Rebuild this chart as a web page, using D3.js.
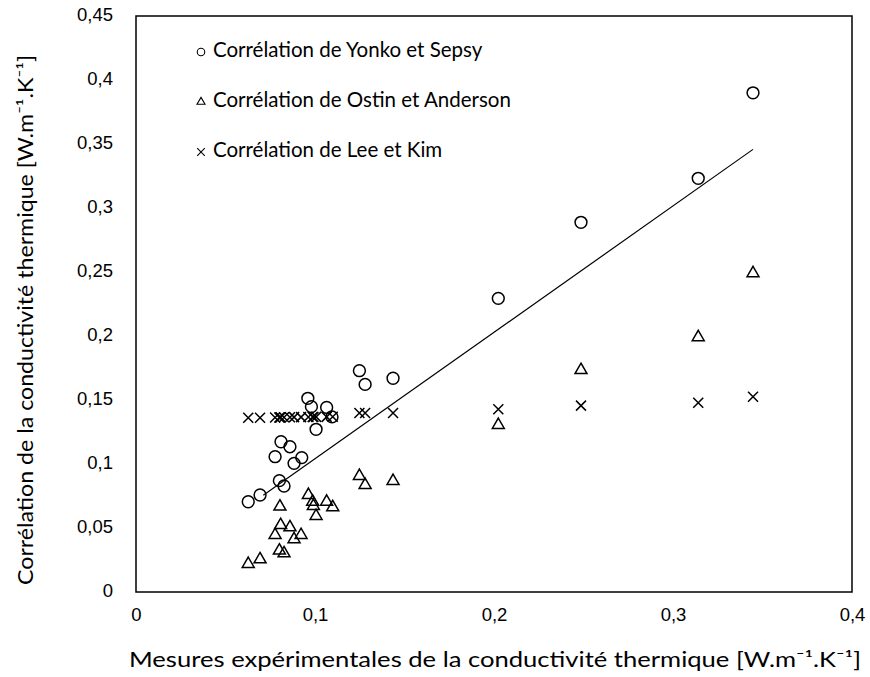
<!DOCTYPE html>
<html>
<head>
<meta charset="utf-8">
<script src="https://cdn.jsdelivr.net/npm/d3@7"></script>
<style>
  body { margin: 0; background: #fff; }
  svg { display: block; font-family: Lato, "Open Sans", sans-serif; }
</style>
</head>
<body>
<svg id="chart" width="870" height="677"></svg>
<script>
// ---- Data ----
const yonkoX = [0.0627, 0.0693, 0.0777, 0.0801, 0.0810, 0.0827, 0.0860, 0.0883, 0.0926, 0.0960, 0.0980, 0.1006, 0.1065, 0.1095, 0.1248, 0.1280, 0.1436, 0.2024, 0.2486, 0.3141, 0.3447];
const yonkoY = [0.0705, 0.0758, 0.1057, 0.0870, 0.1174, 0.0828, 0.1135, 0.1005, 0.1050, 0.1513, 0.1448, 0.1271, 0.1442, 0.1368, 0.1729, 0.1622, 0.1670, 0.2294, 0.2888, 0.3232, 0.3900];

const ostinX = [0.0627, 0.0693, 0.0777, 0.0801, 0.0804, 0.0808, 0.0827, 0.0860, 0.0883, 0.0922, 0.0963, 0.0987, 0.0991, 0.1006, 0.1065, 0.1099, 0.1248, 0.1280, 0.1436, 0.2024, 0.2486, 0.3141, 0.3447];
const ostinY = [0.0219, 0.0255, 0.0445, 0.0323, 0.0667, 0.0523, 0.0302, 0.0505, 0.0412, 0.0445, 0.0758, 0.0705, 0.0672, 0.0594, 0.0705, 0.0662, 0.0906, 0.0836, 0.0867, 0.1305, 0.1734, 0.1990, 0.2490];

const leeX = [0.0627, 0.0693, 0.0777, 0.0801, 0.0804, 0.0808, 0.0827, 0.0860, 0.0883, 0.0922, 0.0963, 0.0987, 0.0991, 0.1006, 0.1065, 0.1099, 0.1248, 0.1280, 0.1436, 0.2024, 0.2486, 0.3141, 0.3447];
const leeY = [0.1362, 0.1362, 0.1364, 0.1364, 0.1364, 0.1365, 0.1365, 0.1365, 0.1366, 0.1366, 0.1367, 0.1367, 0.1367, 0.1368, 0.1368, 0.1369, 0.1398, 0.1398, 0.1398, 0.1427, 0.1456, 0.1479, 0.1526];

// trend line end points (as drawn in the source chart)
const trendX = [0.0711, 0.3447];
const trendY = [0.0755, 0.3458];

const xTicks = [0, 0.1, 0.2, 0.3, 0.4];
const yTicks = [0, 0.05, 0.1, 0.15, 0.2, 0.25, 0.3, 0.35, 0.4, 0.45];

const legendLabels = ["Corrélation de Yonko et Sepsy", "Corrélation de Ostin et Anderson", "Corrélation de Lee et Kim"];
const xTitle = "Mesures expérimentales de la conductivité thermique [W.m\u207B\u00B9.K\u207B\u00B9]";
const yTitle = "Corrélation de la conductivité thermique [W.m\u207B\u00B9.K\u207B\u00B9]";

// ---- Layout ----
const svg = d3.select("#chart");
const L = 136, R = 852, T = 16, B = 592;
const x = d3.scaleLinear().domain([0, 0.4]).range([L, R]);
const y = d3.scaleLinear().domain([0, 0.45]).range([B, T]);
const fmt = d => String(+d.toFixed(2)).replace(".", ",");

// axes (labels only, no tick marks)
const xAxis = d3.axisBottom(x).tickValues(xTicks).tickFormat(fmt).tickSize(0).tickPadding(0);
const gx = svg.append("g").attr("transform", `translate(0,${B})`).call(xAxis);
gx.select(".domain").remove();
gx.selectAll("text").attr("dy", null).attr("y", 24).attr("font-size", 18.5).attr("fill", "#000").attr("dominant-baseline", "middle");

const yAxis = d3.axisLeft(y).tickValues(yTicks).tickFormat(fmt).tickSize(0).tickPadding(0);
const gy = svg.append("g").attr("transform", `translate(${L},0)`).call(yAxis);
gy.select(".domain").remove();
gy.selectAll("text").attr("dy", null).attr("x", -23).attr("font-size", 18.5).attr("fill", "#000").attr("dominant-baseline", "middle");

// frame
svg.append("rect").attr("x", L).attr("y", T).attr("width", R - L).attr("height", B - T)
  .attr("fill", "none").attr("stroke", "#000").attr("stroke-width", 1.5);

// trend line
svg.append("path")
  .datum(d3.zip(trendX, trendY))
  .attr("d", d3.line().x(d => x(d[0])).y(d => y(d[1])))
  .attr("fill", "none").attr("stroke", "#000").attr("stroke-width", 1.2);

const markStroke = 1.5;
const circleSym = d3.symbol().type(d3.symbolCircle).size(110);
const triSym = d3.symbol().type(d3.symbolTriangle).size(62);
const crossPath = s => `M${-s},${-s}L${s},${s}M${-s},${s}L${s},${-s}`;

// Yonko circles
svg.append("g").selectAll("path").data(d3.zip(yonkoX, yonkoY)).join("path")
  .attr("transform", d => `translate(${x(d[0])},${y(d[1])})`)
  .attr("d", circleSym).attr("fill", "none").attr("stroke", "#000").attr("stroke-width", markStroke);

// Ostin triangles
svg.append("g").selectAll("path").data(d3.zip(ostinX, ostinY)).join("path")
  .attr("transform", d => `translate(${x(d[0])},${y(d[1])})`)
  .attr("d", triSym).attr("fill", "none").attr("stroke", "#000").attr("stroke-width", markStroke);

// Lee crosses
svg.append("g").selectAll("path").data(d3.zip(leeX, leeY)).join("path")
  .attr("transform", d => `translate(${x(d[0])},${y(d[1])})`)
  .attr("d", crossPath(5)).attr("fill", "none").attr("stroke", "#000").attr("stroke-width", markStroke);

// legend
const legY = [52, 102, 152];
const leg = svg.append("g");
legendLabels.forEach((t, i) => {
  const g = leg.append("g").attr("transform", `translate(201,${legY[i]})`);
  if (i === 0) g.append("path").attr("d", d3.symbol().type(d3.symbolCircle).size(44)).attr("fill", "none").attr("stroke", "#000").attr("stroke-width", 1.1);
  if (i === 1) g.append("path").attr("d", d3.symbol().type(d3.symbolTriangle).size(28)).attr("fill", "none").attr("stroke", "#000").attr("stroke-width", 1.1);
  if (i === 2) g.append("path").attr("d", crossPath(3.8)).attr("fill", "none").attr("stroke", "#000").attr("stroke-width", 1.1);
  g.append("text").attr("x", 12).attr("y", 0).attr("dominant-baseline", "middle")
    .attr("font-size", 20.5).attr("fill", "#000").text(t);
});

// axis titles
svg.append("text").attr("x", 495).attr("y", 662).attr("text-anchor", "middle")
  .attr("dominant-baseline", "middle").attr("font-size", 21)
  .attr("textLength", 732).attr("lengthAdjust", "spacingAndGlyphs").attr("fill", "#000").text(xTitle);
svg.append("text").attr("transform", `translate(28,320) rotate(-90)`).attr("text-anchor", "middle")
  .attr("dominant-baseline", "middle").attr("font-size", 21)
  .attr("textLength", 530).attr("lengthAdjust", "spacingAndGlyphs").attr("fill", "#000").text(yTitle);
</script>
</body>
</html>
